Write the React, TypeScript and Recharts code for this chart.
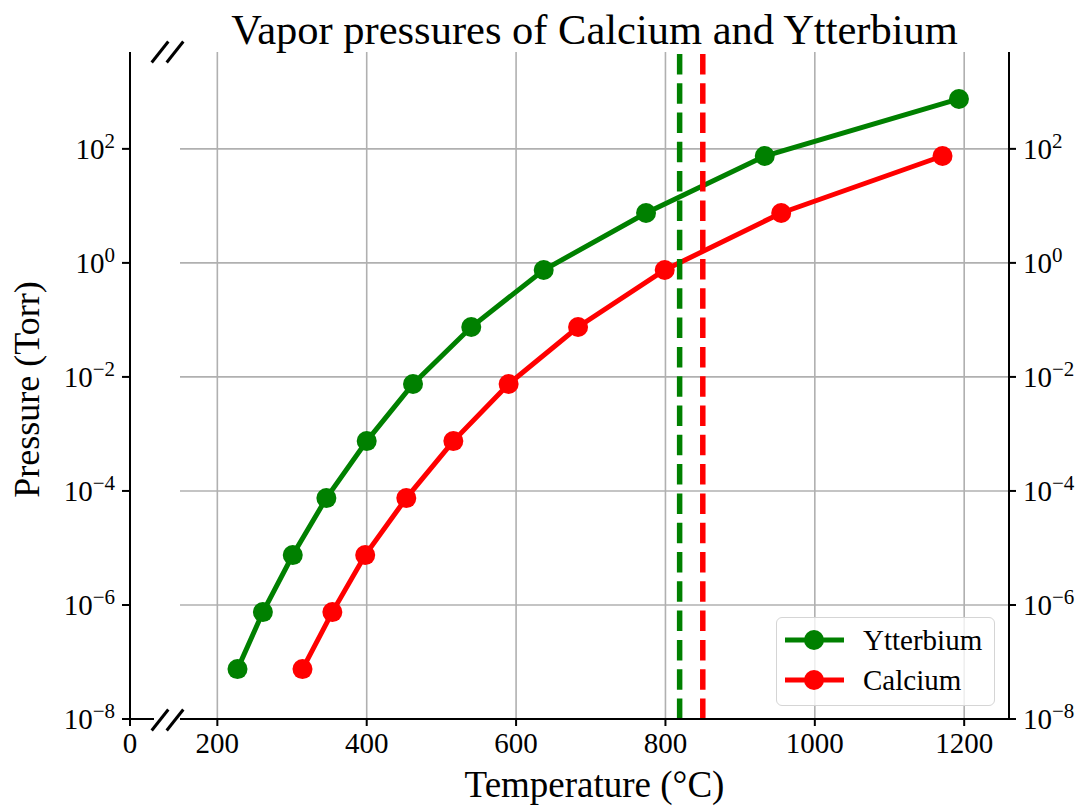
import React from 'react';
import { LineChart, Line, XAxis, YAxis, CartesianGrid, ReferenceLine, Legend, Label } from 'recharts';

// ---- data ----
const ytterbiumTemps = [227, 261, 301, 346, 400, 462, 540, 637, 774, 933, 1193];
const ytterbiumPressures = [7.5e-8, 7.5e-7, 7.5e-6, 7.5e-5, 7.5e-4, 7.5e-3, 7.5e-2, 7.5e-1, 7.5, 75, 750];
const calciumTemps = [314, 354, 398, 453, 516, 590, 683, 799, 955, 1171];
const calciumPressures = [7.5e-8, 7.5e-7, 7.5e-6, 7.5e-5, 7.5e-4, 7.5e-3, 7.5e-2, 7.5e-1, 7.5, 75];
const ytterbiumMelting = 819;
const calciumMelting = 850;
const xTicks = [200, 400, 600, 800, 1000, 1200];
const leftXTicks = [0];
const yTicks = [1e-8, 1e-6, 1e-4, 1e-2, 1, 1e2];

const ytterbiumData = ytterbiumTemps.map((t, i) => ({ t, p: ytterbiumPressures[i] }));
const calciumData = calciumTemps.map((t, i) => ({ t, p: calciumPressures[i] }));

const FONT = "'Liberation Serif', 'Times New Roman', serif";
const GREEN = '#008000';
const RED = '#ff0000';
const Y_DOMAIN: [number, number] = [1e-8, 5000];
const TICK_FS = 29;

const LogTick = (props: any) => {
  const { x, y, payload, textAnchor } = props;
  const exp = Math.round(Math.log10(payload.value));
  const expStr = exp < 0 ? '\u2212' + Math.abs(exp) : String(exp);
  return (
    <text x={x} y={y} dy={10} textAnchor={textAnchor} fontSize={TICK_FS} fontFamily={FONT} fill="#000">
      <tspan>10</tspan>
      <tspan dy={-11} fontSize={21}>{expStr}</tspan>
    </text>
  );
};

const LegendBox = () => {
  const items = [
    { name: 'Ytterbium', color: GREEN },
    { name: 'Calcium', color: RED },
  ];
  return (
    <div
      style={{
        width: 219,
        height: 89,
        boxSizing: 'border-box',
        border: '1.5px solid #d5d5d5',
        borderRadius: 6,
        background: 'rgba(255,255,255,0.8)',
        padding: '2px 0 0 0',
      }}
    >
      {items.map((it) => (
        <div key={it.name} style={{ display: 'flex', alignItems: 'center', height: 40 }}>
          <svg width={80} height={30} style={{ marginLeft: 6 }}>
            <line x1={2} y1={15} x2={61} y2={15} stroke={it.color} strokeWidth={5} />
            <circle cx={31} cy={15} r={10} fill={it.color} />
          </svg>
          <span style={{ fontFamily: FONT, fontSize: 29, color: '#000', lineHeight: '30px' }}>{it.name}</span>
        </div>
      ))}
    </div>
  );
};

export default function App() {
  return (
    <div style={{ position: 'absolute', left: 0, top: 0, width: 1090, height: 810, background: '#fff' }}>
      {/* left broken segment */}
      <div style={{ position: 'absolute', left: 0, top: 0 }}>
        <LineChart width={160} height={810} margin={{ top: 52, right: 6, bottom: 51, left: 0 }}>
          <XAxis
            xAxisId="top"
            orientation="top"
            type="number"
            domain={[0, 32]}
            allowDataOverflow
            height={0}
            tick={false}
            tickLine={false}
            axisLine={{ stroke: '#000', strokeWidth: 2 }}
          />
          <XAxis
            type="number"
            dataKey="t"
            domain={[0, 32]}
            allowDataOverflow
            ticks={leftXTicks}
            height={40}
            tickSize={7}
            tickMargin={6}
            tickLine={{ stroke: '#000', strokeWidth: 2 }}
            axisLine={{ stroke: '#000', strokeWidth: 2 }}
            tick={{ fontSize: TICK_FS, fill: '#000', fontFamily: FONT }}
          />
          <YAxis
            type="number"
            scale="log"
            domain={Y_DOMAIN}
            allowDataOverflow
            ticks={yTicks}
            width={130}
            tickSize={8}
            tickMargin={7}
            tickLine={{ stroke: '#000', strokeWidth: 2 }}
            axisLine={{ stroke: '#000', strokeWidth: 2 }}
            tick={<LogTick />}
          >
            <Label
              content={(props: any) => {
                const vb = props.viewBox || { x: 0, y: 52, height: 667 };
                const cx = vb.x + 27;
                const cy = vb.y + vb.height / 2 + 4;
                return (
                  <text
                    x={cx}
                    y={cy}
                    transform={`rotate(-90, ${cx}, ${cy})`}
                    textAnchor="middle"
                    dominantBaseline="central"
                    fontSize={36}
                    fontFamily={FONT}
                    fill="#000"
                  >
                    Pressure (Torr)
                  </text>
                );
              }}
            />
          </YAxis>
        </LineChart>
      </div>

      {/* main panel */}
      <div style={{ position: 'absolute', left: 0, top: 0 }}>
        <LineChart width={1090} height={810} margin={{ top: 52, right: 21, bottom: 51, left: 180 }}>
          <CartesianGrid stroke="#b0b0b0" strokeWidth={1.6} syncWithTicks />
          <XAxis
            xAxisId="top"
            orientation="top"
            type="number"
            domain={[150, 1260]}
            allowDataOverflow
            height={0}
            tick={false}
            tickLine={false}
            axisLine={{ stroke: '#000', strokeWidth: 2 }}
          />
          <XAxis
            type="number"
            dataKey="t"
            domain={[150, 1260]}
            allowDataOverflow
            ticks={xTicks}
            height={40}
            tickSize={7}
            tickMargin={6}
            tickLine={{ stroke: '#000', strokeWidth: 2 }}
            axisLine={{ stroke: '#000', strokeWidth: 2 }}
            tick={{ fontSize: TICK_FS, fill: '#000', fontFamily: FONT }}
          >
            <Label
              content={(props: any) => {
                const vb = props.viewBox || { x: 180, y: 719, width: 829 };
                return (
                  <text
                    x={vb.x + vb.width / 2}
                    y={784}
                    textAnchor="middle"
                    dominantBaseline="central"
                    fontSize={37}
                    fontFamily={FONT}
                    fill="#000"
                  >
                    Temperature (°C)
                  </text>
                );
              }}
            />
          </XAxis>
          <YAxis
            orientation="right"
            type="number"
            scale="log"
            domain={Y_DOMAIN}
            allowDataOverflow
            ticks={yTicks}
            width={60}
            tickSize={7}
            tickMargin={7}
            tickLine={{ stroke: '#000', strokeWidth: 2 }}
            axisLine={{ stroke: '#000', strokeWidth: 2 }}
            tick={<LogTick />}
          />
          <Line
            data={ytterbiumData}
            dataKey="p"
            name="Ytterbium"
            type="linear"
            stroke={GREEN}
            strokeWidth={5}
            dot={{ r: 10, fill: GREEN, stroke: GREEN, strokeWidth: 0 }}
            isAnimationActive={false}
          />
          <Line
            data={calciumData}
            dataKey="p"
            name="Calcium"
            type="linear"
            stroke={RED}
            strokeWidth={5}
            dot={{ r: 10, fill: RED, stroke: RED, strokeWidth: 0 }}
            isAnimationActive={false}
          />
          <ReferenceLine x={ytterbiumMelting} stroke={GREEN} strokeWidth={5.5} strokeDasharray="20.5 8.8" />
          <ReferenceLine x={calciumMelting} stroke={RED} strokeWidth={5.5} strokeDasharray="20.5 8.8" />
          <Legend
            layout="horizontal"
            verticalAlign="middle"
            align="center"
            content={<LegendBox />}
            wrapperStyle={{ position: 'absolute', left: 776, top: 617, width: 219, height: 89 }}
          />
        </LineChart>
      </div>

      {/* title and axis-break marks */}
      <svg width={1090} height={810} style={{ position: 'absolute', left: 0, top: 0, pointerEvents: 'none' }}>
        <text x={594.5} y={44} textAnchor="middle" fontSize={42.5} fontFamily={FONT} fill="#000">
          Vapor pressures of Calcium and Ytterbium
        </text>
        {[52, 720].map((yc) =>
          [160, 175].map((xc) => (
            <line
              key={`${yc}-${xc}`}
              x1={xc - 8.3}
              y1={yc + 10.5}
              x2={xc + 8.3}
              y2={yc - 10.5}
              stroke="#000"
              strokeWidth={3}
            />
          ))
        )}
      </svg>
    </div>
  );
}
